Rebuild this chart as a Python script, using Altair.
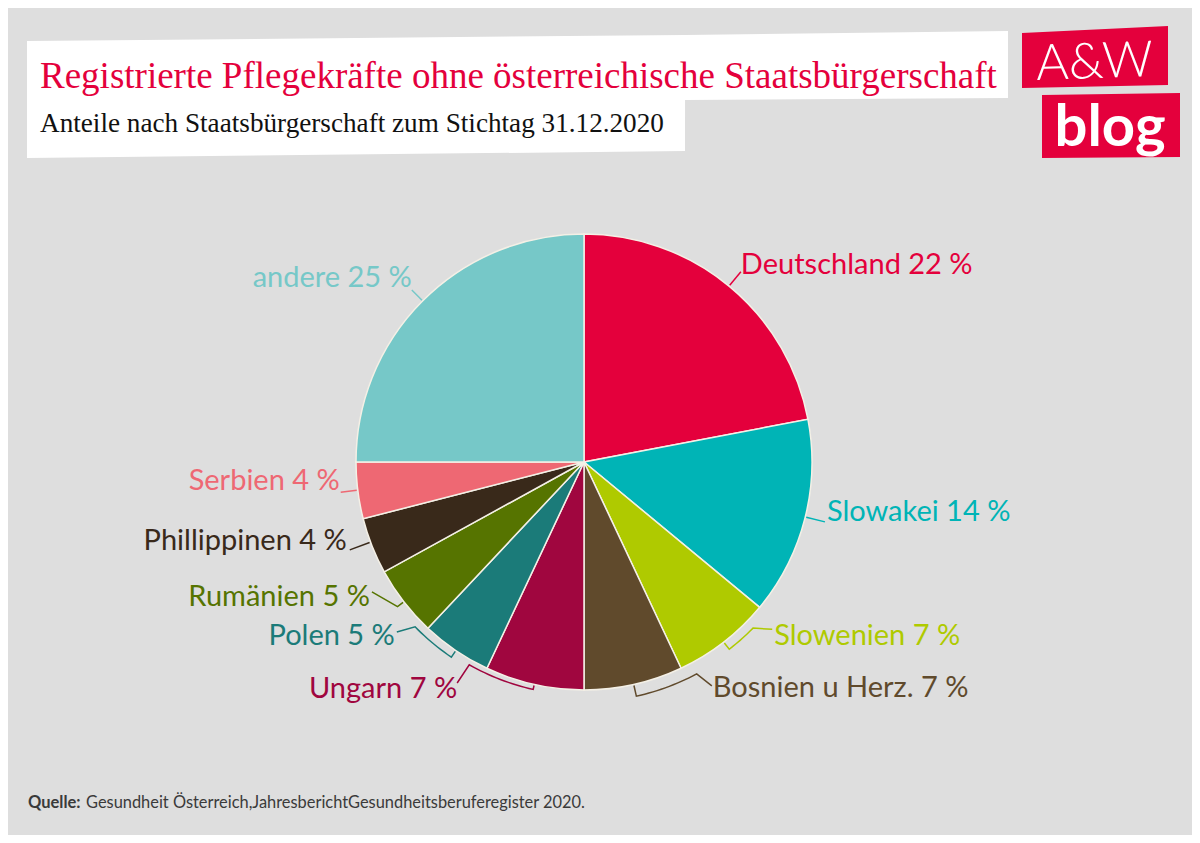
import math
import numpy as np
import pandas as pd
import altair as alt

# ---------------- data ----------------
laender = ["Deutschland", "Slowakei", "Slowenien", "Bosnien u Herz.", "Ungarn",
           "Polen", "Rumänien", "Phillippinen", "Serbien", "andere"]
anteile = [22, 14, 7, 7, 7, 5, 5, 4, 4, 25]
farben = ["#E4003C", "#00B4B6", "#AFCA00", "#604A2C", "#A0063F",
          "#1B7B79", "#567400", "#39291A", "#EE6873", "#76C8C8"]

titel = "Registrierte Pflegekräfte ohne österreichische Staatsbürgerschaft"
untertitel = "Anteile nach Staatsbürgerschaft zum Stichtag 31.12.2020"
quelle_fett = "Quelle:"
quelle_text = "Gesundheit Österreich,JahresberichtGesundheitsberuferegister 2020."

# ---------------- layout ----------------
W, H = 1184, 827
OFF = 8
CX, CY = 584 - OFF, 462 - OFF
R = 228
BG = "#DEDEDE"
RED = "#E4003C"

# label placement (polar position of text anchor, degrees clockwise from top)
label_angle = [38.5, 101.6, 132.5, 150.3, 209.2, 227.4, 237.8, 251.6, 265.5, 316.9]
label_radius = [252, 248, 258, 260, 260, 257, 253, 250, 245, 252]
attach_off = [(0, 7), (-2, 10), (-2, -7), (-1, -2), (0, -6),
              (2, -4), (2, -5), (3, 9), (1, 11), (0, 12)]
# bracket leaders: (bracket radius, arc end angle) or None for straight leader
bracket = [None, None, (237, 134.5), (240, 152.0), (233, 209.5),
           (236, 225.7), (236, None), None, None, None]


def P(a, r):
    t = math.radians(a)
    return CX + r * math.sin(t), CY - r * math.cos(t)


n = len(laender)
total = float(sum(anteile))
cum = np.concatenate([[0], np.cumsum(anteile)])
mid = [(cum[i] + anteile[i] / 2) / total * 360 for i in range(n)]

pie_df = pd.DataFrame({"land": laender, "wert": anteile, "idx": list(range(n))})

lab_rows = []
lead_rows = []
for i in range(n):
    tx, ty = P(label_angle[i], label_radius[i])
    side = "r" if label_angle[i] < 180 else "l"
    lab_rows.append({"x": tx, "y": ty, "land": laender[i],
                     "text": f"{laender[i]} {anteile[i]} %", "side": side})
    ax, ay = tx + attach_off[i][0], ty + attach_off[i][1]
    pts = [(ax, ay)]
    if bracket[i] is None:
        dx, dy = ax - CX, ay - CY
        d = math.hypot(dx, dy)
        pts.append((CX + dx / d * (R + 1), CY + dy / d * (R + 1)))
    else:
        rb, a2 = bracket[i]
        a1 = mid[i]
        if a2 is None:
            a2 = a1
        steps = max(1, int(abs(a1 - a2)))
        for k in range(steps + 1):
            a = a2 + (a1 - a2) * k / steps
            pts.append(P(a, rb))
        pts.append(P(a1, R + 1))
    for k, (px, py) in enumerate(pts):
        lead_rows.append({"x": px, "y": py, "land": laender[i], "seg": i, "o": k})

lab_df = pd.DataFrame(lab_rows)
lead_df = pd.DataFrame(lead_rows)

xs = alt.Scale(domain=[0, W], nice=False, zero=False)
ys = alt.Scale(domain=[0, H], nice=False, zero=False, reverse=True)
X = alt.X("x:Q", scale=xs, axis=None)
Y = alt.Y("y:Q", scale=ys, axis=None)
col = alt.Color("land:N", scale=alt.Scale(domain=laender, range=farben), legend=None)


def quad(df, color):
    return alt.Chart(df).mark_area(color=color, orient="vertical").encode(
        x=X, y=Y, y2="y2:Q")


# title box (slightly tilted)
box_quad_df = pd.DataFrame({
    "x": [27 - OFF, 685 - OFF, 685.05 - OFF, 1008 - OFF],
    "y": [41 - OFF, 35 - OFF, 35 - OFF, 31 - OFF],
    "y2": [158 - OFF, 151 - OFF, 100 - OFF, 98 - OFF]})

logo1_quad = pd.DataFrame({"x": [1022 - OFF, 1168 - OFF], "y": [33 - OFF, 26 - OFF],
                           "y2": [88 - OFF, 85 - OFF]})
logo2_quad = pd.DataFrame({"x": [1042 - OFF, 1180 - OFF], "y": [95 - OFF, 93 - OFF],
                           "y2": [158 - OFF, 157 - OFF]})

logo_txt_df = pd.DataFrame({"x": [1095 - OFF, 1110 - OFF], "y": [78 - OFF, 146 - OFF],
                            "t": ["A&W", "blog"], "w": ["n", "b"]})
logo_a = alt.Chart(logo_txt_df[logo_txt_df.w == "n"]).mark_text(
    font="Lato", fontSize=50, fontWeight=300, color="white", align="center",
    baseline="alphabetic", angle=358).encode(x=X, y=Y, text="t:N")
logo_b = alt.Chart(logo_txt_df[logo_txt_df.w == "b"]).mark_text(
    font="Lato", fontSize=58, fontWeight="bold", color="white", align="center",
    baseline="alphabetic").encode(x=X, y=Y, text="t:N")

title_df = pd.DataFrame({"x": [40 - OFF], "y": [88 - OFF], "t": [titel]})
sub_df = pd.DataFrame({"x": [40 - OFF], "y": [132 - OFF], "t": [untertitel]})
title = alt.Chart(title_df).mark_text(
    font="Liberation Serif", fontSize=37, color=RED, align="left",
    baseline="alphabetic").encode(x=X, y=Y, text="t:N")
sub = alt.Chart(sub_df).mark_text(
    font="Liberation Serif", fontSize=27.2, color="#111111", align="left",
    baseline="alphabetic").encode(x=X, y=Y, text="t:N")

pie = alt.Chart(pie_df).mark_arc(radius=R, stroke="#F4F0E6", strokeWidth=1.5).encode(
    theta=alt.Theta("wert:Q", stack=True),
    color=col,
    order=alt.Order("idx:Q"),
    x=alt.value(CX), y=alt.value(CY))

leaders = alt.Chart(lead_df).mark_line(strokeWidth=1.5).encode(
    x=X, y=Y, color=col, detail="seg:N", order="o:Q")

lab_r = alt.Chart(lab_df[lab_df.side == "r"]).mark_text(
    font="Lato", fontSize=29, align="left", baseline="middle").encode(
    x=X, y=Y, text="text:N", color=col)
lab_l = alt.Chart(lab_df[lab_df.side == "l"]).mark_text(
    font="Lato", fontSize=29, align="right", baseline="middle").encode(
    x=X, y=Y, text="text:N", color=col)

src_df = pd.DataFrame({"x": [28 - OFF, 86 - OFF], "y": [808 - OFF, 808 - OFF],
                       "t": [quelle_fett, quelle_text], "w": ["b", "n"]})
src_b = alt.Chart(src_df[src_df.w == "b"]).mark_text(
    font="Lato", fontSize=16.5, fontWeight="bold", color="#3A3A3A", align="left",
    baseline="alphabetic").encode(x=X, y=Y, text="t:N")
src_n = alt.Chart(src_df[src_df.w == "n"]).mark_text(
    font="Lato", fontSize=16.4, color="#3A3A3A", align="left",
    baseline="alphabetic").encode(x=X, y=Y, text="t:N")

chart = alt.layer(
    quad(box_quad_df, "white"), quad(logo1_quad, RED), quad(logo2_quad, RED),
    logo_a, logo_b, title, sub,
    pie, leaders, lab_r, lab_l, src_b, src_n
).properties(
    width=W, height=H, background=BG, padding=0,
    autosize=alt.AutoSizeParams(type="none")
).configure_view(strokeOpacity=0)

chart.save("out.html", embed_options={"renderer": "svg", "actions": False})
